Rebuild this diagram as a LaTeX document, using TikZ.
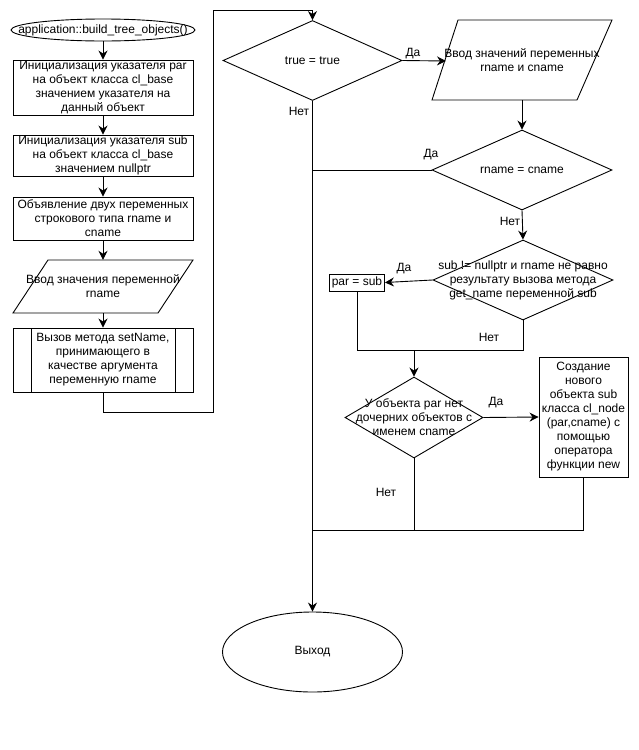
\documentclass[tikz,border=0pt]{standalone}
\usepackage{fontspec}
\setmainfont{Liberation Sans}
\usetikzlibrary{shapes.geometric,arrows.meta}
\tikzset{
  base/.style={draw, line width=0.9pt, inner sep=0pt, font=\fontsize{12}{14}\selectfont, align=center},
  proc/.style={base, rectangle, minimum width=180pt},
  term/.style={base, ellipse},
  dec/.style={draw, line width=0.9pt, diamond, inner sep=0pt},
  txt/.style={inner sep=0pt, font=\fontsize{12}{14}\selectfont, align=center},
  lbl/.style={inner sep=0pt, font=\fontsize{12}{14}\selectfont},
  line/.style={line width=0.9pt},
  arr/.style={line width=0.9pt, -{Stealth[length=9pt,width=9pt,inset=3pt]}}
}
\begin{document}
\begin{tikzpicture}[x=1pt,y=-1pt]
\useasboundingbox (0,0) rectangle (639,750);
\fill[white] (0,0) rectangle (639,750);

% left column
\node[term, minimum width=184pt, minimum height=22pt] (start) at (103,30) {};
\node[txt] at (start) {application::build\_tree\_objects()};
\node[proc, minimum height=55pt] (b1) at (103,87.5) {Инициализация указателя par\\на объект класса cl\_base\\значением указателя на\\данный объект};
\node[proc, minimum height=41pt] (b2) at (103,155.5) {Инициализация указателя sub\\на объект класса cl\_base\\значением nullptr};
\node[proc, minimum height=43pt] (b3) at (103,218.5) {Объявление двух переменных\\строкового типа rname и\\cname};
\draw[line] (48,260) -- (193,260) -- (158,313) -- (13,313) -- cycle;
\node[txt, minimum width=145pt, minimum height=53pt] (io1) at (103,286.5) {Ввод значения переменной\\rname};
\node[proc, minimum height=64pt] (sp) at (103,360) {Вызов метода setName,\\принимающего в\\качестве аргумента\\переменную rname};
\draw[line] (31,328) -- (31,392) (175,328) -- (175,392);

% right part
\node[dec, minimum width=179pt, minimum height=80pt] (d1) at (312.5,60.5) {};
\node[txt] at (d1) {true = true};
\draw[line] (458,20) -- (612,20) -- (577,100) -- (432,100) -- cycle;
\node[txt, minimum width=150pt, minimum height=80pt] (io2) at (522,60) {Ввод значений переменных\\rname и cname};
\coordinate (io2w) at (446,61);
\node[dec, minimum width=180pt, minimum height=80pt] (d2) at (522,170) {};
\node[txt] at (d2) {rname = cname};
\node[dec, minimum width=180pt, minimum height=80pt] (d3) at (523,280) {};
\node[txt] at (d3) {sub != nullptr и rname не равно\\результату вызова метода\\get\_name переменной sub};
\node[base, rectangle, minimum width=55pt, minimum height=17pt] (par) at (357,282.5) {par = sub};
\node[dec, minimum width=138pt, minimum height=81pt] (d4) at (414,417.5) {};
\node[txt] at (d4) {У объекта par нет\\дочерних объектов с\\именем cname};
\node[base, rectangle, minimum width=89pt, minimum height=120pt] (b5) at (583.5,417) {Создание\\нового\\объекта sub\\класса cl\_node\\(par,cname) с\\помощью\\оператора\\функции new};
\node[term, minimum width=180pt, minimum height=80pt] (exit) at (312.5,652) {Выход};

\coordinate (loopA) at (103,412);
\coordinate (loopB) at (213,412);
\coordinate (loopC) at (213,10);
\coordinate (loopD) at (312.5,10);
\coordinate (j1) at (313,170);
\coordinate (m1) at (357,350);
\coordinate (m2) at (523,350);
\coordinate (m3) at (414,350);
\coordinate (e1) at (583.5,530);
\coordinate (e2) at (414,530);
\coordinate (e3) at (312.5,530);

% connectors
\draw[arr] (start) -- (b1);
\draw[arr] (b1) -- (b2);
\draw[arr] (b2) -- (b3);
\draw[arr] (b3.south) -- (io1.north);
\draw[arr] (io1.south) -- (sp.north);
\draw[arr] (sp.south) -- (loopA) -- (loopB) -- (loopC) -- (loopD) -- (d1.north);
\draw[arr] (d1.east) -- (io2w);
\draw[arr] (d1.south) -- (exit.north);
\draw[arr] (io2.south) -- (d2.north);
\draw[line] (d2.west) -- (j1);
\draw[arr] (d2.south) -- (d3.north);
\draw[arr] (d3.west) -- (par.east);
\draw[line] (par.south) -- (m1) -- (m2) -- (d3.south);
\draw[arr] (m3) -- (d4.north);
\draw[arr] (d4.east) -- (b5.west);
\draw[line] (b5.south) -- (e1) -- (e3);
\draw[line] (d4.south) -- (e2);

% labels
\node[lbl] at (413,54) {Да};
\node[lbl] at (299,111) {Нет};
\node[lbl] at (431,155) {Да};
\node[lbl] at (510,221) {Нет};
\node[lbl] at (404,269) {Да};
\node[lbl] at (489,337) {Нет};
\node[lbl] at (496,403) {Да};
\node[lbl] at (386,492) {Нет};
\end{tikzpicture}
\end{document}
